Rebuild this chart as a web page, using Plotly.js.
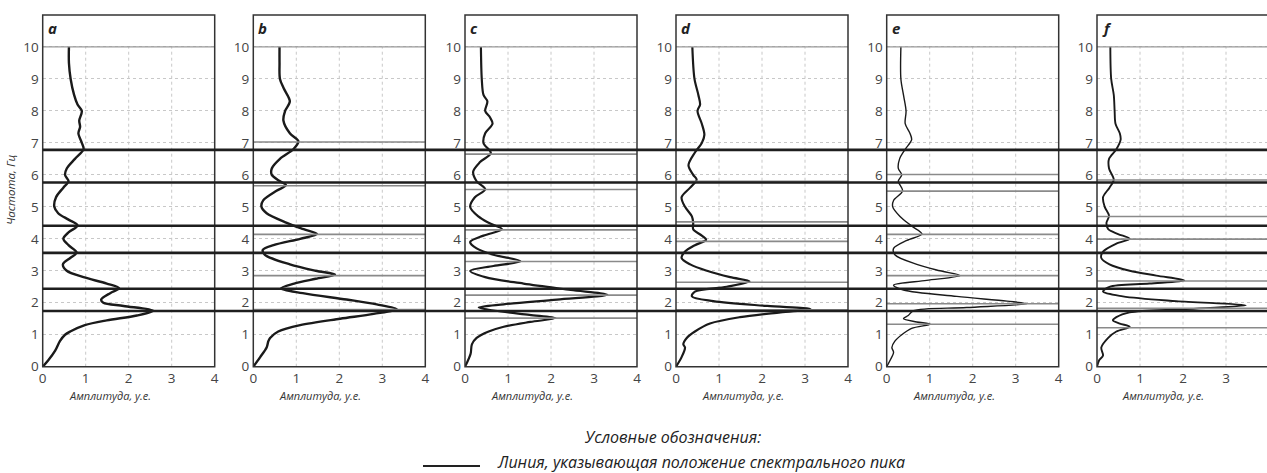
<!DOCTYPE html>
<html><head><meta charset="utf-8">
<script src="https://cdn.plot.ly/plotly-3.0.1.min.js"></script>
<style>html,body{margin:0;padding:0;background:#fff;overflow:hidden}</style>
</head><body><div id="chart" style="width:1267px;height:473px"></div>
<script>
// ---------------- DATA ----------------
const panelLetters = ['a', 'b', 'c', 'd', 'e', 'f'];
const yTicks = [0, 1, 2, 3, 4, 5, 6, 7, 8, 9, 10];
const xTicks = [0, 1, 2, 3, 4];
const xTitle = 'Амплитуда, у.е.';
const yTitle = 'Частота, Гц';
const legendTitle = 'Условные обозначения:';
const legendText = 'Линия, указывающая положение спектрального пика';

// frequency (Hz) and amplitude (a.u.) per panel
const freqA = [0,0.2,0.5,0.8,1.0,1.1,1.3,1.45,1.6,1.75,1.9,2.0,2.1,2.3,2.45,2.6,2.8,3.0,3.2,3.4,3.57,3.8,4.0,4.2,4.42,4.6,4.8,5.0,5.3,5.6,5.8,6.0,6.2,6.5,6.8,7.0,7.3,7.5,7.7,8.0,8.2,8.5,9.0,9.5,10];
const ampA  = [0,0.13,0.29,0.40,0.52,0.64,0.98,1.49,2.19,2.57,1.88,1.41,1.36,1.57,1.78,1.49,0.95,0.56,0.47,0.64,0.79,0.60,0.48,0.60,0.81,0.60,0.36,0.27,0.31,0.48,0.60,0.52,0.56,0.75,0.95,0.91,0.83,0.87,0.85,0.91,0.81,0.73,0.65,0.61,0.61];

const freqB = [0,0.3,0.6,0.8,0.9,1.1,1.3,1.5,1.65,1.8,1.95,2.1,2.3,2.45,2.6,2.75,2.88,3.0,3.2,3.5,3.65,3.8,4.0,4.15,4.3,4.5,4.8,5.0,5.2,5.5,5.68,5.8,6.0,6.2,6.5,6.8,7.05,7.3,7.7,8.0,8.3,8.7,9.0,9.5,10];
const ampB  = [0,0.16,0.31,0.35,0.39,0.58,1.09,2.02,2.8,3.34,2.87,2.17,1.15,0.64,0.95,1.45,1.9,1.45,0.85,0.27,0.22,0.47,1.09,1.48,1.17,0.78,0.31,0.19,0.23,0.54,0.76,0.62,0.43,0.43,0.62,0.93,1.05,0.85,0.70,0.74,0.85,0.71,0.62,0.61,0.61];

const freqC = [0,0.4,0.7,0.9,1.1,1.25,1.4,1.52,1.62,1.75,1.85,1.95,2.1,2.25,2.4,2.6,2.8,3.0,3.15,3.3,3.5,3.7,3.9,4.1,4.3,4.5,4.7,5.0,5.3,5.55,5.8,6.1,6.4,6.68,7.0,7.3,7.6,7.8,8.0,8.3,8.5,9.0,10];
const ampC  = [0,0.13,0.16,0.27,0.55,0.9,1.52,2.1,1.5,0.7,0.32,0.9,2.14,3.31,2.46,1.36,0.47,0.12,0.66,1.29,0.66,0.27,0.12,0.43,0.86,0.55,0.31,0.12,0.23,0.47,0.27,0.19,0.35,0.6,0.43,0.47,0.64,0.58,0.47,0.52,0.43,0.39,0.37];

const freqD = [0,0.3,0.6,0.7,0.9,1.1,1.35,1.55,1.7,1.8,1.9,2.05,2.2,2.35,2.5,2.67,2.8,3.0,3.2,3.4,3.6,3.8,3.97,4.1,4.3,4.5,4.7,5.0,5.3,5.6,5.85,6.0,6.3,6.7,7.0,7.25,7.6,8.0,8.2,8.5,9.0,10];
const ampD  = [0,0.13,0.21,0.17,0.25,0.44,0.79,1.49,2.43,3.13,2.12,0.87,0.37,0.44,1.18,1.71,1.26,0.72,0.33,0.13,0.21,0.44,0.7,0.6,0.4,0.4,0.37,0.21,0.13,0.33,0.48,0.4,0.29,0.44,0.6,0.66,0.6,0.5,0.56,0.52,0.43,0.38];

const freqE = [0,0.2,0.45,0.6,0.8,1.0,1.2,1.33,1.4,1.5,1.6,1.75,1.85,1.97,2.05,2.2,2.4,2.55,2.7,2.85,3.0,3.2,3.5,3.7,3.95,4.15,4.4,4.7,5.0,5.2,5.5,5.8,6.0,6.2,6.5,6.8,7.1,7.3,7.6,8.0,8.5,9.0,10];
const ampE  = [0,0.08,0.16,0.12,0.19,0.35,0.58,1.01,0.7,0.39,0.5,0.62,1.86,3.26,2.8,1.63,0.39,0.16,0.93,1.71,1.24,0.7,0.19,0.16,0.47,0.82,0.58,0.31,0.14,0.16,0.37,0.27,0.35,0.27,0.3,0.43,0.58,0.54,0.43,0.45,0.39,0.33,0.33];

const freqF = [0,0.2,0.35,0.6,0.9,1.1,1.25,1.35,1.45,1.55,1.7,1.8,1.92,2.05,2.2,2.35,2.5,2.6,2.7,2.85,3.0,3.2,3.4,3.6,3.85,4.0,4.15,4.3,4.5,4.72,5.0,5.3,5.6,5.85,6.2,6.5,6.8,7.1,7.3,7.6,8.0,8.5,9.0,10];
const ampF  = [0,0.05,0.14,0.1,0.26,0.45,0.76,0.53,0.37,0.45,0.76,2.07,3.46,1.84,0.6,0.14,0.29,1.22,2.03,1.38,0.76,0.29,0.1,0.14,0.45,0.76,0.49,0.26,0.22,0.28,0.18,0.14,0.29,0.39,0.28,0.28,0.45,0.55,0.53,0.43,0.41,0.39,0.33,0.31];

// spectral peak lines (Hz)
const commonPeaks = [6.78, 5.76, 4.41, 3.56, 2.44, 1.74];
const peaksA = [];
const peaksB = [7.03, 5.66, 4.14, 2.85, 1.79];
const peaksC = [6.65, 5.54, 4.28, 3.29, 2.24, 1.52];
const peaksD = [5.80, 4.53, 3.92, 2.64, 1.78];
const peaksE = [6.01, 5.49, 4.14, 2.85, 1.97, 1.33];
const peaksF = [5.84, 4.70, 3.99, 2.68, 1.83, 1.22];

// ---------------- LAYOUT GEOMETRY ----------------
const W = 1267, H = 473;
const panelLeft = [42.7, 253.3, 465, 676, 886.7, 1097];
const panelWidth = 172;
const plotTop = 15, plotBottom = 366.7;
const lineWidths = [2.4, 2.4, 2.2, 2.2, 1.4, 1.9];

const freqs = [freqA, freqB, freqC, freqD, freqE, freqF];
const amps = [ampA, ampB, ampC, ampD, ampE, ampF];
const peaks = [peaksA, peaksB, peaksC, peaksD, peaksE, peaksF];

const traces = [];
const layout = {
  width: W, height: H, autosize: false,
  margin: {l: 0, r: 0, t: 0, b: 0, pad: 0},
  paper_bgcolor: '#fff', plot_bgcolor: 'rgba(0,0,0,0)',
  showlegend: false,
  font: {family: 'Open Sans, sans-serif', color: '#444', size: 13},
  shapes: [], annotations: []
};
const yDom = [(H - plotBottom) / H, (H - plotTop) / H];

for (let i = 0; i < 6; i++) {
  const s = i === 0 ? '' : String(i + 1);
  const x0 = panelLeft[i], x1 = Math.min(panelLeft[i] + panelWidth, W);
  const xmax = 4 * (x1 - x0) / panelWidth;
  layout['xaxis' + s] = {
    domain: [x0 / W, x1 / W], range: [0, xmax], tickvals: xTicks,
    showgrid: false, zeroline: false, showline: false, ticks: '', ticklabelstandoff: 2,
    tickfont: {size: 13.5, color: '#444'}, anchor: 'y' + s, fixedrange: true
  };
  layout['yaxis' + s] = {
    domain: yDom, range: [0, 11], tickvals: yTicks,
    showgrid: true, gridcolor: '#c8c8c8', griddash: 'dot', gridwidth: 1,
    zeroline: false, showline: false, ticks: '', ticklabelstandoff: 3,
    tickfont: {size: 13.5, color: '#444'}, anchor: 'x' + s, fixedrange: true
  };
  traces.push({
    type: 'scatter', mode: 'lines', x: amps[i], y: freqs[i],
    xaxis: 'x' + s, yaxis: 'y' + s,
    line: {color: '#1a1a1a', width: lineWidths[i], shape: 'spline', smoothing: 0.9},
    hoverinfo: 'skip'
  });
  // vertical dotted gridlines (0..10 only)
  [1, 2, 3].forEach(v => {
    if (v <= xmax) layout.shapes.push({type: 'line', xref: 'x' + s, yref: 'y' + s,
      x0: v, x1: v, y0: 0, y1: 10, layer: 'below',
      line: {color: '#c8c8c8', width: 1, dash: 'dot'}});
  });
  // solid line at 10
  layout.shapes.push({type: 'line', xref: 'x' + s + ' domain', yref: 'y' + s,
    x0: 0, x1: 1, y0: 10, y1: 10, line: {color: '#9a9a9a', width: 1.2}});
  // panel-specific peak lines
  peaks[i].forEach(p => layout.shapes.push({type: 'line', xref: 'x' + s + ' domain', yref: 'y' + s,
    x0: 0, x1: 1, y0: p, y1: p, line: {color: '#8a8a8a', width: 1.6}}));
  // box
  layout.shapes.push({type: 'rect', xref: 'x' + s + ' domain', yref: 'y' + s + ' domain',
    x0: 0, x1: i === 5 ? 1.05 : 1, y0: 0, y1: 1, line: {color: '#333', width: 1.5}});
  // panel letter
  layout.annotations.push({xref: 'x' + s + ' domain', yref: 'y' + s + ' domain', x: 0, y: 1,
    xanchor: 'left', yanchor: 'top', xshift: 3, yshift: -1, showarrow: false,
    text: panelLetters[i], font: {size: 15, color: '#222', style: 'italic', weight: 'bold'}});
  // x axis title
  layout.annotations.push({xref: 'x' + s + ' domain', yref: 'paper', x: 0.39, y: (H - 396) / H,
    xanchor: 'center', yanchor: 'middle', showarrow: false, text: xTitle,
    font: {size: 11, color: '#333', style: 'italic'}});
}

// common thick peak lines spanning all panels
commonPeaks.forEach(p => layout.shapes.push({type: 'line', xref: 'paper', yref: 'y',
  x0: panelLeft[0] / W, x1: 1, y0: p, y1: p, line: {color: '#1e1e1e', width: 2.6}}));

// y axis title
layout.annotations.push({xref: 'paper', yref: 'paper', x: 10 / W, y: (H - 190) / H,
  xanchor: 'center', yanchor: 'middle', showarrow: false, textangle: -90, text: yTitle,
  font: {size: 11.5, color: '#333', style: 'italic'}});

// legend block
layout.annotations.push({xref: 'paper', yref: 'paper', x: 672 / W, y: (H - 437) / H,
  xanchor: 'center', yanchor: 'middle', showarrow: false, text: legendTitle,
  font: {size: 16, color: '#222', style: 'italic'}});
layout.annotations.push({xref: 'paper', yref: 'paper', x: 495 / W, y: (H - 462) / H,
  xanchor: 'left', yanchor: 'middle', showarrow: false, text: legendText,
  font: {size: 16, color: '#222', style: 'italic'}});
layout.shapes.push({type: 'line', xref: 'paper', yref: 'paper', x0: 423 / W, x1: 480 / W,
  y0: (H - 466) / H, y1: (H - 466) / H, line: {color: '#222', width: 1.8}});

Plotly.newPlot('chart', traces, layout, {staticPlot: true, displayModeBar: false});
</script></body></html>
